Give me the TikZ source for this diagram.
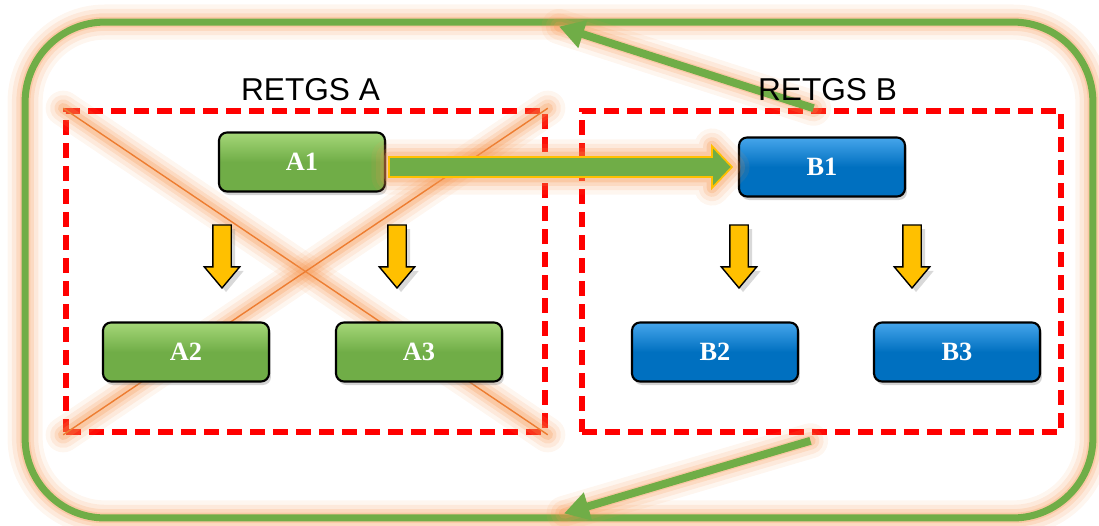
\documentclass[tikz,border=0pt]{standalone}
\usepackage{fontspec}
\setmainfont{Liberation Serif}
\newfontfamily\labelfont{Liberation Sans}
\usetikzlibrary{positioning, shapes.arrows, arrows.meta, calc, shadows}
\definecolor{leafgreen}{RGB}{112,173,71}
\definecolor{lightgreen}{RGB}{165,215,120}
\definecolor{oceanblue}{RGB}{0,112,192}
\definecolor{skyblue}{RGB}{70,165,235}
\definecolor{glowc}{RGB}{246,150,80}
\definecolor{crossc}{RGB}{237,125,49}
\definecolor{gold}{RGB}{255,192,0}
\tikzset{
  glow/.style={preaction={draw=glowc, -, line join=round, line cap=round, line width=20pt, opacity=.09},
               preaction={draw=glowc, -, line join=round, line cap=round, line width=15pt, opacity=.13},
               preaction={draw=glowc, -, line join=round, line cap=round, line width=10pt, opacity=.18},
               preaction={draw=glowc, -, line join=round, line cap=round, line width=6pt, opacity=.25}},
  ringbox/.style={draw=leafgreen, line width=4pt, rounded corners=1.6cm, minimum width=21.36cm, minimum height=9.92cm, inner sep=0pt, glow},
  groupbox/.style={draw=red, line width=3.2pt, dash pattern=on 0.3cm off 0.16cm, minimum width=9.58cm, minimum height=6.42cm, inner sep=0pt},
  grouplabel/.style={font=\labelfont\fontsize{18}{20}\selectfont, inner sep=0pt},
  crossline/.style={draw=crossc, line width=0.8pt, glow},
  basebox/.style={draw=black, line width=1.2pt, rounded corners=0.16cm, minimum width=3.32cm, minimum height=1.18cm, text=white, font=\bfseries\fontsize{15}{18}\selectfont, drop shadow={opacity=.35, shadow xshift=0.04cm, shadow yshift=-0.07cm}},
  gbox/.style={basebox, top color=lightgreen, bottom color=leafgreen, middle color=leafgreen},
  bbox/.style={basebox, top color=skyblue, bottom color=oceanblue, middle color=oceanblue},
  drop/.style={single arrow, rotate=-90, draw=black, line width=0.8pt, fill=gold, minimum height=1.26cm, inner xsep=0pt, inner ysep=0.17cm, single arrow head extend=0.17cm, single arrow tip angle=80, drop shadow={opacity=.3}},
  bigarr/.style={fill=leafgreen, draw=gold, line width=1pt, glow},
  greenarr/.style={draw=leafgreen, line width=4.5pt, -{Triangle[length=0.5cm,width=0.55cm]}, glow}
}
\begin{document}
\begin{tikzpicture}[x=0.02cm, y=-0.02cm]
    \useasboundingbox (0,0) rectangle (1099,525);
    % frame and the two groups
    \node[ringbox] (ring) at (559,270) {};
    \node[groupbox] (grpA) at (305.5,271.5) {};
    \node[groupbox] (grpB) at (821.5,271.5) {};

    % group A is crossed out
    \draw[crossline] (grpA.north west) -- (grpA.south east);
    \draw[crossline] (grpA.south west) -- (grpA.north east);

    % boxes
    \node[gbox] (A1) at (302,162) {A1};
    \node[gbox] (A2) at (186,352) {A2};
    \node[gbox] (A3) at (419,352) {A3};
    \node[bbox] (B1) at (822,167) {B1};
    \node[bbox] (B2) at (715,352) {B2};
    \node[bbox] (B3) at (957,352) {B3};

    \node[drop] (dropA2) at (222,251) {};
    \node[drop] (dropA3) at (397,251) {};
    \node[drop] (dropB2) at (739,251) {};
    \node[drop] (dropB3) at (912,251) {};

    % switch over from A to B
    \draw[bigarr] ($(A1.east |- B1.west)+(0.06cm,0.2cm)$) -- ($(B1.west)+(-0.52cm,0.2cm)$)
        -- ($(B1.west)+(-0.52cm,0.42cm)$) -- ($(B1.west)+(-0.12cm,0)$)
        -- ($(B1.west)+(-0.52cm,-0.42cm)$) -- ($(B1.west)+(-0.52cm,-0.2cm)$)
        -- ($(A1.east |- B1.west)+(0.06cm,-0.2cm)$) -- cycle;

    \draw[greenarr] ([xshift=-0.16cm]grpB.north) -- ([yshift=-0.16cm]ring.north);
    \draw[greenarr] ([xshift=-0.22cm,yshift=-0.12cm]grpB.south) -- ([xshift=0.1cm,yshift=0.16cm]ring.south);

    \node[grouplabel, above=0.14cm of grpA, xshift=0.1cm] (labA) {RETGS A};
    \node[grouplabel, above=0.14cm of grpB, xshift=0.12cm] (labB) {RETGS B};
\end{tikzpicture}
\end{document}
